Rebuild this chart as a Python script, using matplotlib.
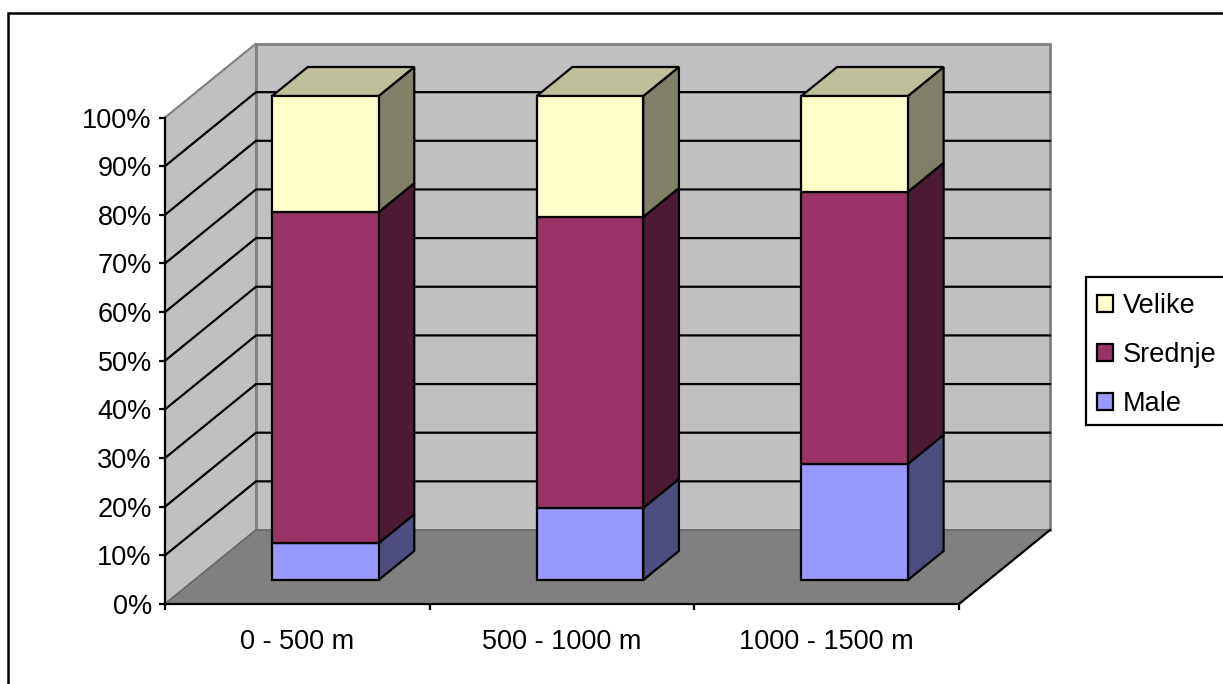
import numpy as np
import matplotlib
matplotlib.use('Agg')
import matplotlib.pyplot as plt
from matplotlib.patches import Patch, Rectangle

plt.rcParams['font.family'] = ['Liberation Sans', 'DejaVu Sans']

categories = ['0 - 500 m', '500 - 1000 m', '1000 - 1500 m']
male = [7.6, 14.9, 24.0]
srednje = [68.4, 60.1, 56.2]
velike = [24.0, 25.0, 19.8]
y_ticks = [0, 10, 20, 30, 40, 50, 60, 70, 80, 90, 100]

W, H = 1223, 684
# front plane of the fake 3d box, in pixels
left, right, base, top = 165, 959, 604, 117.5
CAT_PX = (right - left) / 3

# how far the back of the box is shifted, in data units
DEPTH_X = 91 / CAT_PX
DEPTH_Y = 74 / ((base - top) / 100)

BAR_W = 106.5 / CAT_PX
BAR_SHIFT = -1.5 / CAT_PX
D0, D1 = 24 / 74, 53 / 74  # bar front and back, as share of the depth
BAR_SCALE = 484 / 486.5

LW = 1.6
series = [
    ('Male', male, '#9999FF', '#4D4D80', '#BFBFFF'),
    ('Srednje', srednje, '#993366', '#4D1A33', '#993366'),
    ('Velike', velike, '#FFFFCC', '#808066', '#BFBF99'),
]


def proj(x, v, d=0.0):
    return x + d * DEPTH_X, v + d * DEPTH_Y


def face(ax, pts, color, edge='black', lw=LW, z=3):
    xs, ys = zip(*pts)
    ax.fill(xs, ys, facecolor=color, edgecolor=edge, linewidth=lw,
            joinstyle='miter', clip_on=False, zorder=z)


fig = plt.figure(figsize=(W / 100, H / 100), dpi=100)
ax = fig.add_axes([left / W, 1 - base / H, (right - left) / W, (base - top) / H])
ax.set_xlim(0, 3)
ax.set_ylim(0, 100)
ax.patch.set_visible(False)

# outer chart frame, runs off the right and bottom of the picture
fig.add_artist(Rectangle((8 / W, -0.02), 1.1, 1 - 13 / H + 0.02, transform=fig.transFigure,
                         fill=False, edgecolor='black', linewidth=1.8))

# walls and floor
face(ax, [proj(0, 0), proj(0, 0, 1), proj(0, 100, 1), proj(0, 100)], '#C0C0C0', '#808080', 1.5, 1)
face(ax, [proj(0, 0, 1), proj(3, 0, 1), proj(3, 100, 1), proj(0, 100, 1)], '#C0C0C0', '#808080', 2, 1)
face(ax, [proj(0, 0), proj(3, 0), proj(3, 0, 1), proj(0, 0, 1)], '#808080', '#666666', 1, 1)
x0, y0 = zip(proj(3, 0), proj(3, 0, 1))
ax.plot(x0, y0, color='black', lw=LW, clip_on=False, zorder=2)

# gridlines on side and back wall
for t in y_ticks[1:-1]:
    xs, ys = zip(proj(0, t), proj(0, t, 1), proj(3, t, 1))
    ax.plot(xs, ys, color='black', lw=LW, clip_on=False, zorder=2, solid_joinstyle='miter')

# stacked bars
for i in range(len(categories)):
    a = i + 0.5 - BAR_W / 2 + BAR_SHIFT
    b = i + 0.5 + BAR_W / 2 + BAR_SHIFT
    bottom = 0
    for name, vals, col, side, roof in series:
        v0 = bottom * BAR_SCALE
        v1 = (bottom + vals[i]) * BAR_SCALE
        face(ax, [proj(b, v0, D0), proj(b, v0, D1), proj(b, v1, D1), proj(b, v1, D0)], side)
        face(ax, [proj(a, v0, D0), proj(b, v0, D0), proj(b, v1, D0), proj(a, v1, D0)], col, z=4)
        if name == 'Velike':
            face(ax, [proj(a, v1, D0), proj(b, v1, D0), proj(b, v1, D1), proj(a, v1, D1)], roof)
        bottom += vals[i]

for s in ['top', 'right']:
    ax.spines[s].set_visible(False)
for s in ['left', 'bottom']:
    ax.spines[s].set_linewidth(LW)
    ax.spines[s].set_zorder(5)

ax.set_yticks(y_ticks)
ax.set_yticklabels([str(t) + '%' for t in y_ticks])
ax.set_xticks([0, 1, 2, 3])
ax.set_xticklabels([])
ax.set_xticks([i + 0.5 for i in range(len(categories))], minor=True)
ax.set_xticklabels(categories, minor=True)
ax.tick_params(axis='y', length=4.5, width=LW, pad=5, labelsize=19.5)
ax.tick_params(axis='x', which='major', length=4.5, width=LW)
ax.tick_params(axis='x', which='minor', length=0, pad=18, labelsize=19.5)

# legend box drawn apart, its padding differs between x and y
fig.add_artist(Rectangle((1086 / W, 1 - 425 / H), 200 / W, 148 / H, transform=fig.transFigure,
                         facecolor='white', edgecolor='black', linewidth=LW))
handles = [Patch(facecolor=s[2], edgecolor='black', linewidth=LW, label=s[0]) for s in series[::-1]]
leg = fig.legend(handles=handles, loc='upper left', bbox_to_anchor=(1097 / W, 1 - 293 / H),
                 bbox_transform=fig.transFigure, fontsize=19.5, frameon=False,
                 borderaxespad=0, borderpad=0, labelspacing=0.85,
                 handlelength=0.6, handleheight=0.6, handletextpad=0.35)

fig.savefig('out.png', dpi=100)
